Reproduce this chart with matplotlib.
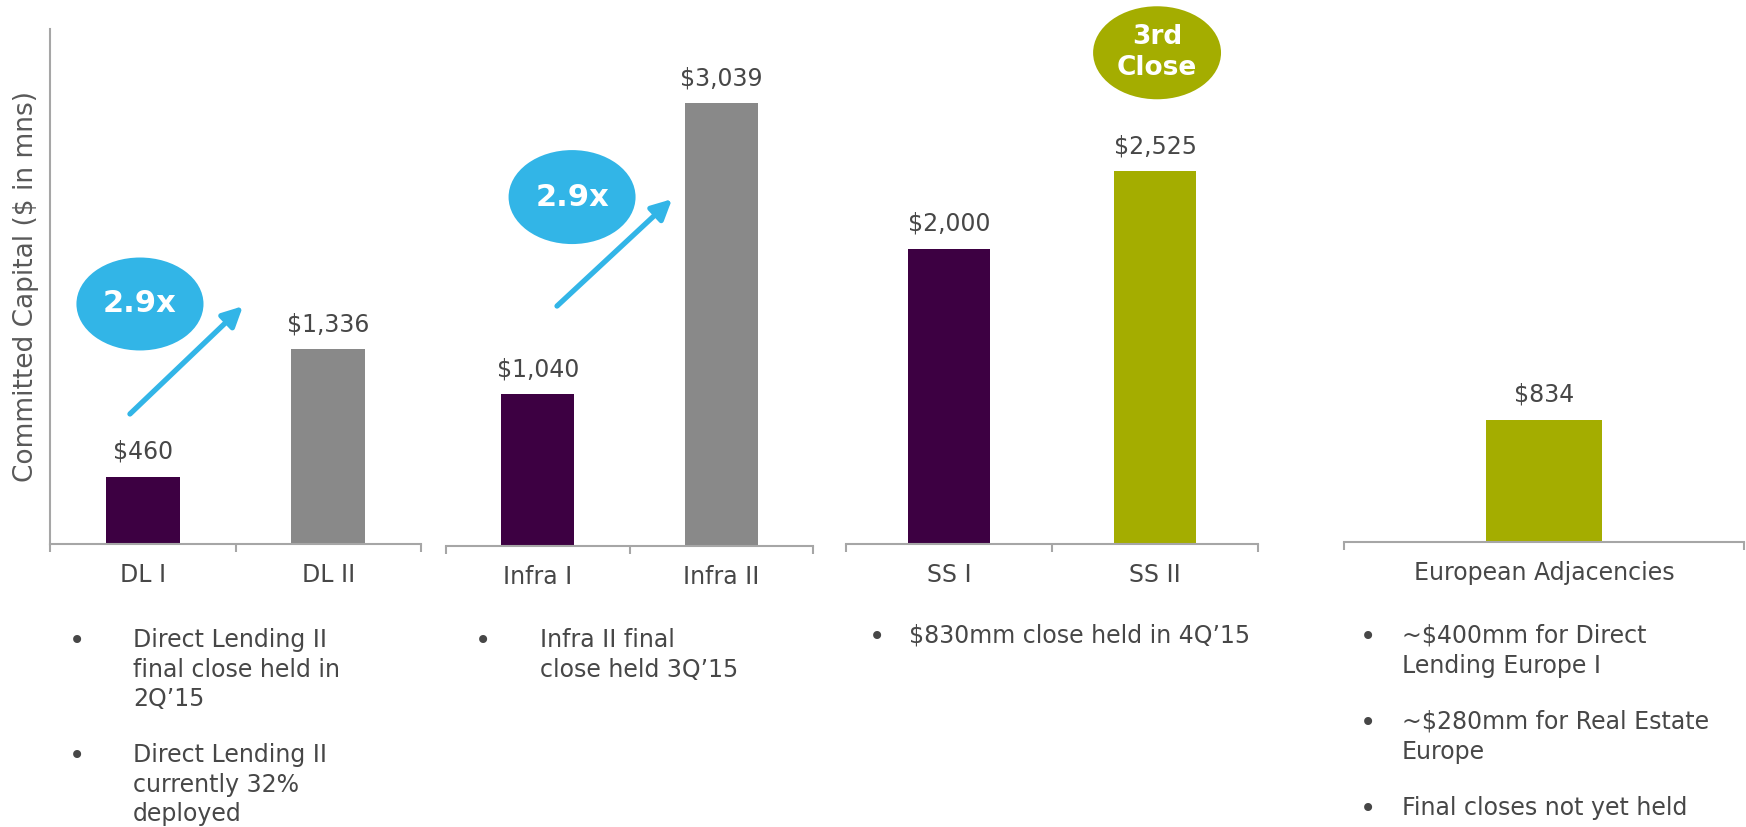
import numpy as np
import matplotlib
matplotlib.use('Agg')
import matplotlib.pyplot as plt
from matplotlib.patches import Ellipse

plt.rcParams['font.family'] = 'DejaVu Sans'
plt.rcParams['text.parse_math'] = False

# committed capital per fund, one panel per strategy
groups = [["DL I", "DL II"], ["Infra I", "Infra II"], ["SS I", "SS II"], ["European Adjacencies"]]
capital = [[460, 1336], [1040, 3039], [2000, 2525], [834]]
bar_colors = [["#3D0042", "#898989"], ["#3D0042", "#898989"],
              ["#3D0042", "#A4AD00"], ["#A4AD00"]]

# bullet notes under each panel
notes = [
    ["Direct Lending II\nfinal close held in\n2Q\u201915", "Direct Lending II\ncurrently 32%\ndeployed"],
    ["Infra II final\nclose held 3Q\u201915"],
    ["$830mm close held in 4Q\u201915"],
    ["~$400mm for Direct\nLending Europe I", "~$280mm for Real Estate\nEurope", "Final closes not yet held"],
]

text_col = "#474747"
axis_col = "#A6A6A6"
blue = "#32B5E7"
olive = "#A4AD00"

W, H = 1746, 827
fig = plt.figure(figsize=(W / 100, H / 100), dpi=100)

# panel layout in pixels: left, right, baseline, y max
panels = [(50, 421, 543.6, 3540), (446, 813, 545.5, 3540),
          (846, 1258, 543.6, 3494), (1344, 1744, 542, 3520)]
panel_h = 515

axes = []
for i, (names, vals, cols) in enumerate(zip(groups, capital, bar_colors)):
    left, right, base, ymax = panels[i]
    ax = fig.add_axes([left / W, 1 - base / H, (right - left) / W, panel_h / H])
    x = np.arange(len(names))
    width = 0.4 if len(names) > 1 else 0.29
    ax.bar(x, vals, width=width, color=cols, zorder=2)
    for xi, v in zip(x, vals):
        ax.annotate(f"${v:,}", (xi, v), xytext=(0, 18), textcoords='offset points',
                    ha='center', va='center', fontsize=17, color=text_col)
    ax.set_xlim(-0.5, len(names) - 0.5)
    ax.set_ylim(0, ymax)
    ax.set_xticks(x)
    ax.set_xticklabels(names, fontsize=17, color=text_col)
    ax.set_xticks(np.arange(len(names) + 1) - 0.5, minor=True)
    ax.tick_params(axis='x', which='major', length=0, pad=14)
    ax.tick_params(axis='x', which='minor', length=6, width=1.5, color=axis_col, direction='out')
    ax.set_yticks([])
    ax.spines['top'].set_visible(False)
    ax.spines['right'].set_visible(False)
    ax.spines['bottom'].set_color(axis_col)
    ax.spines['bottom'].set_linewidth(1.5)
    if i == 0:
        ax.spines['left'].set_color(axis_col)
        ax.spines['left'].set_linewidth(1.5)
        ax.set_ylabel("Committed Capital ($ in mns)", fontsize=19, color="#595959")
        ax.yaxis.set_label_coords(-0.03, 0.5)
    else:
        ax.spines['left'].set_visible(False)
    ax.patch.set_alpha(0)
    axes.append(ax)


def bubble(ax, xy, w, h, label, color, size):
    e = Ellipse(xy, w, h, facecolor=color, edgecolor='none', clip_on=False, zorder=5)
    ax.add_patch(e)
    ax.text(xy[0], xy[1], label, ha='center', va='center', fontsize=size,
            fontweight='bold', color='white', zorder=6, linespacing=1.25)


def growth_arrow(ax, start, end):
    ax.annotate("", xy=end, xytext=start,
                arrowprops=dict(arrowstyle='-|>', color=blue, lw=3.8,
                                mutation_scale=30, shrinkA=0, shrinkB=0))


# 2.9x growth callouts
bubble(axes[0], (-0.015, 1647), 0.685, 639, "2.9x", blue, 22)
growth_arrow(axes[0], (-0.069, 891), (0.54, 1632))
bubble(axes[1], (0.187, 2395), 0.692, 646, "2.9x", blue, 22)
growth_arrow(axes[1], (0.105, 1646), (0.732, 2381))
bubble(axes[2], (1.01, 3330), 0.621, 631, "3rd\nClose", olive, 19)

# bullet notes
bullet_x = [77, 483, 877, 1368]
note_x = [133, 540, 909, 1402]
note_y = [[641, 756], [641], [637], [637, 723, 809]]
for bx, tx, ys, items in zip(bullet_x, note_x, note_y, notes):
    for y, item in zip(ys, items):
        fig.text(bx / W, 1 - y / H, "\u2022", ha='center', va='center',
                 fontsize=20, color=text_col)
        fig.text(tx / W, 1 - (y - 13) / H, item, ha='left', va='top',
                 fontsize=17, color=text_col, linespacing=1.3)

fig.savefig("out.png", dpi=100)
